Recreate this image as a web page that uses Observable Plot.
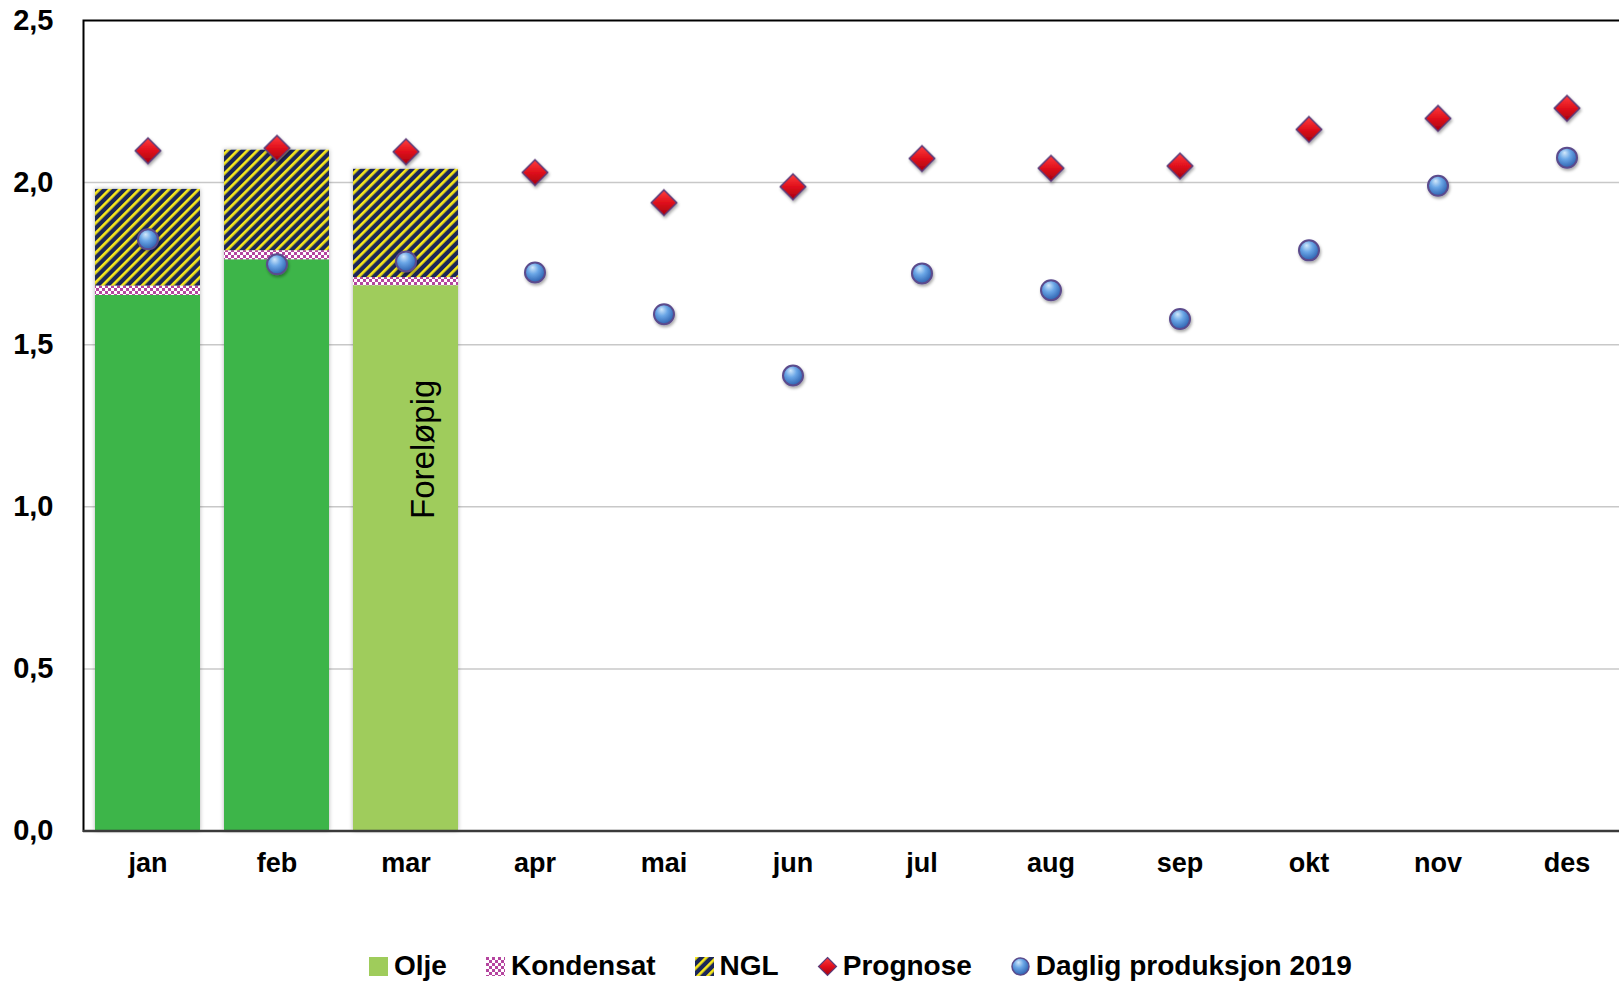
<!DOCTYPE html>
<html><head><meta charset="utf-8">
<script src="https://cdn.jsdelivr.net/npm/d3@7"></script>
<script src="https://cdn.jsdelivr.net/npm/@observablehq/plot@0.6"></script>
<style>
html,body{margin:0;padding:0;background:#fff;overflow:hidden;}
#wrap{position:relative;width:1619px;height:981px;}
#wrap > svg{max-width:none;}
#legend{position:absolute;left:369px;top:950px;display:flex;align-items:center;font-family:"Liberation Sans",Arial,sans-serif;font-weight:bold;font-size:28px;color:#000;white-space:nowrap;line-height:32px;}
.item{display:flex;align-items:center;margin-right:39px;}
.item svg{margin-right:6px;overflow:visible;}
</style></head><body><div id="wrap"></div>
<script>
// ---- data ----
const months = ["jan","feb","mar","apr","mai","jun","jul","aug","sep","okt","nov","des"];
const barMonths = ["jan","feb","mar"];
const barStatus = ["endelig","endelig","foreløpig"];
const olje = [1.652, 1.762, 1.682];
const kondensat = [0.029, 0.028, 0.025];
const ngl = [0.298, 0.310, 0.334];
const prognose = [2.098, 2.106, 2.095, 2.031, 1.938, 1.987, 2.074, 2.044, 2.051, 2.164, 2.198, 2.229];
const daglig = [1.825, 1.748, 1.757, 1.723, 1.594, 1.405, 1.720, 1.668, 1.579, 1.791, 1.990, 2.077];
const yTicks = [0, 0.5, 1.0, 1.5, 2.0, 2.5];
const legendLabels = ["Olje", "Kondensat", "NGL", "Prognose", "Daglig produksjon 2019"];
const noteLabel = "Foreløpig";
const noteMonth = "mar";

// ---- build tables ----
const oljeDark = "#3db54a", oljeLight = "#9fcc5b";
const bars = [];
barMonths.forEach((m, i) => {
  bars.push({month: m, serie: "Olje", value: olje[i], fill: barStatus[i] === "foreløpig" ? oljeLight : oljeDark});
  bars.push({month: m, serie: "Kondensat", value: kondensat[i], fill: "url(#kondensat)"});
  bars.push({month: m, serie: "NGL", value: ngl[i], fill: "url(#ngl)"});
});
const points = months.map((m, i) => ({month: m, prognose: prognose[i], daglig: daglig[i]}));
const noteIdx = barMonths.indexOf(noteMonth);
const note = [{month: noteMonth, y: olje[noteIdx] * 0.7, label: noteLabel}];
const fmt = d => d.toFixed(1).replace(".", ",");

const svg = Plot.plot({
  width: 1619,
  height: 900,
  marginLeft: 83,
  marginRight: -12,
  marginTop: 20,
  marginBottom: 69.5,
  style: {fontFamily: "'Liberation Sans', Arial, sans-serif", fontSize: "27px", fontWeight: "bold", color: "#000", background: "#fff"},
  x: {domain: months, paddingInner: 0.185, paddingOuter: 0.0925, tickSize: 0, tickPadding: 22, label: null},
  y: {domain: [0, 2.5], ticks: yTicks, tickFormat: fmt, tickSize: 0, tickPadding: 30, label: null},
  color: {type: "identity"},
  marks: [
    Plot.ruleY(yTicks.filter(t => t > 0 && t < 2.5), {stroke: "#c8c8c8", strokeWidth: 1.5}),
    Plot.barY(bars, {x: "month", y: "value", fill: "fill"}),
    Plot.text(note, {x: "month", y: "y", text: "label", rotate: -90, dx: 17, fontSize: 33, fontWeight: "normal", fill: "#000"}),
    Plot.dot(points, {x: "month", y: "daglig", r: 10, fill: "url(#sphere)", stroke: "#5b4b8c", strokeWidth: 2}),
    Plot.dot(points, {x: "month", y: "prognose", r: 11.5, symbol: "diamond2", fill: "url(#ruby)", stroke: "#5b3d7a", strokeWidth: 1.5}),
    Plot.frame({stroke: "#000", strokeWidth: 2}),
    Plot.ruleY([0], {stroke: "#3a3a3a", strokeWidth: 2.5})
  ]
});

const defs = `
<pattern id="kondensat" patternUnits="userSpaceOnUse" width="6" height="6">
  <rect width="6" height="6" fill="#ffffff"/>
  <rect width="3" height="3" fill="#b5459f"/>
  <rect x="3" y="3" width="3" height="3" fill="#b5459f"/>
</pattern>
<pattern id="ngl" patternUnits="userSpaceOnUse" width="7" height="7" patternTransform="rotate(45)">
  <rect width="7" height="7" fill="#1c2758"/>
  <rect width="2.7" height="7" fill="#f7e81c"/>
</pattern>
<radialGradient id="sphere" cx="0.42" cy="0.38" r="0.62" fx="0.38" fy="0.25">
  <stop offset="0" stop-color="#d2e8fb"/>
  <stop offset="0.45" stop-color="#6aa6e6"/>
  <stop offset="1" stop-color="#2e62b0"/>
</radialGradient>
<linearGradient id="ruby" x1="0" y1="0" x2="0" y2="1">
  <stop offset="0" stop-color="#ff3d3d"/>
  <stop offset="0.5" stop-color="#e0101c"/>
  <stop offset="1" stop-color="#a5000d"/>
</linearGradient>
<filter id="shadow" x="-60%" y="-60%" width="220%" height="220%">
  <feDropShadow dx="1" dy="2" stdDeviation="1.6" flood-color="#000" flood-opacity="0.35"/>
</filter>
<filter id="barshadow" x="-10%" y="-10%" width="120%" height="120%">
  <feDropShadow dx="0" dy="0" stdDeviation="2.2" flood-color="#000" flood-opacity="0.3"/>
</filter>`;
const sel = d3.select(svg);
sel.insert("defs", ":first-child").html(defs);
sel.selectAll('g[aria-label="dot"]').attr("filter", "url(#shadow)");
sel.selectAll('g[aria-label="bar"]').attr("filter", "url(#barshadow)");
sel.selectAll('g[aria-label^="y-axis"]').attr("font-size", "29px").style("font-size", "29px");

const wrap = document.getElementById("wrap");
wrap.appendChild(svg);

// ---- legend ----
const swatches = [
  `<svg width="19" height="19"><rect width="19" height="19" fill="${oljeLight}"/></svg>`,
  `<svg width="19" height="19"><rect width="19" height="19" fill="url(#kondensat)"/></svg>`,
  `<svg width="19" height="19"><rect width="19" height="19" fill="url(#ngl)"/></svg>`,
  `<svg width="19" height="19"><path d="M9.5 0.5 L18.5 9.5 L9.5 18.5 L0.5 9.5Z" fill="url(#ruby)" stroke="#5b3d7a" stroke-width="1.2"/></svg>`,
  `<svg width="19" height="19"><circle cx="9.5" cy="9.5" r="8.5" fill="url(#sphere)" stroke="#5b4b8c" stroke-width="1.5"/></svg>`
];
const legend = document.createElement("div");
legend.id = "legend";
legend.innerHTML = legendLabels.map((l, i) => `<span class="item">${swatches[i]}<span>${l}</span></span>`).join("");
wrap.appendChild(legend);
</script>
</body></html>
